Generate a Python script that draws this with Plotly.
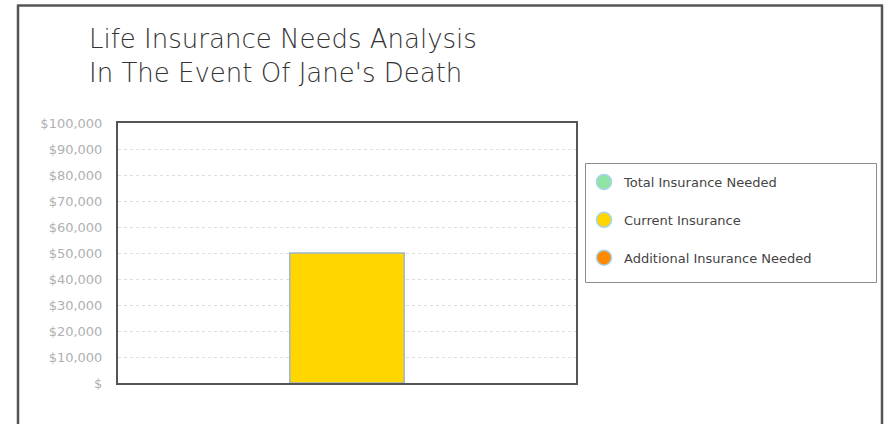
import plotly.graph_objects as go

# ---- data ----
categories = ["Jane"]
series_names = ["Total Insurance Needed", "Current Insurance", "Additional Insurance Needed"]
total_needed = [0]
current_insurance = [50000]
additional_needed = [0]
series_values = [total_needed, current_insurance, additional_needed]
series_colors = ["#90E4A4", "#FFD600", "#FF8A00"]
tick_values = [0, 10000, 20000, 30000, 40000, 50000, 60000, 70000, 80000, 90000, 100000]
tick_labels = ["$", "$10,000", "$20,000", "$30,000", "$40,000", "$50,000",
               "$60,000", "$70,000", "$80,000", "$90,000", "$100,000"]
title_lines = ["Life Insurance Needs Analysis", "In The Event Of Jane's Death"]

W, H = 884, 424
L, R, T, B = 118, 576, 123, 383  # plot area in px


def px_x(px):
    return (px - L) / (R - L)


def px_y(py):
    return (B - py) / (B - T)


FONT = "DejaVu Sans, Verdana, sans-serif"

fig = go.Figure()

for name, vals, col in zip(series_names, series_values, series_colors):
    fig.add_trace(go.Bar(
        x=categories, y=vals, name=name, showlegend=False,
        marker=dict(color=col,
                    line=dict(color="#9DB7CC",
                              width=[1.5 if v > 0 else 0 for v in vals])),
        hoverinfo="y",
    ))

# legend proxies (circle symbols)
for i, (name, col) in enumerate(zip(series_names, series_colors)):
    fig.add_trace(go.Scatter(
        x=[None], y=[None], mode="markers", name=name, legendgroup=f"g{i}",
        marker=dict(symbol="circle", size=15, color=col,
                    line=dict(color="#A8D4EC", width=1.5)),
    ))

shapes = [
    # outer frame (left, top, right)
    dict(type="line", xref="paper", yref="paper", x0=px_x(18), x1=px_x(18),
         y0=px_y(5), y1=px_y(430), line=dict(color="#555555", width=2.5)),
    dict(type="line", xref="paper", yref="paper", x0=px_x(17), x1=px_x(883),
         y0=px_y(5.5), y1=px_y(5.5), line=dict(color="#555555", width=2.5)),
    dict(type="line", xref="paper", yref="paper", x0=px_x(882), x1=px_x(882),
         y0=px_y(5), y1=px_y(430), line=dict(color="#555555", width=2.5)),
    # legend box
    dict(type="rect", xref="paper", yref="paper", x0=px_x(585.5), x1=px_x(876.5),
         y0=px_y(163.5), y1=px_y(282.5), line=dict(color="#8C8C8C", width=1)),
]

fig.update_layout(
    width=W, height=H,
    margin=dict(l=L, r=W - R, t=T, b=H - B, pad=0),
    paper_bgcolor="white", plot_bgcolor="white",
    barmode="group", bargap=0.25, bargroupgap=0,
    font=dict(family=FONT, color="#333333"),
    title=dict(text="<br>".join(title_lines), xref="container", yref="container",
               x=89 / W, xanchor="left", y=1 - 48 / H, yanchor="top",
               font=dict(family=FONT, size=26, color="#333333", weight=300)),
    xaxis=dict(showticklabels=False, showgrid=False, zeroline=False,
               showline=True, mirror=True, linecolor="#555555", linewidth=2,
               range=[-0.5, 0.5], fixedrange=True),
    yaxis=dict(range=[0, 100000], tickvals=tick_values, ticktext=tick_labels,
               showgrid=True, gridcolor="#DDDDDD", griddash="dot", gridwidth=1,
               zeroline=False, showline=True, mirror=True, linecolor="#555555",
               linewidth=2, ticks="", ticklabelstandoff=11,
               tickfont=dict(family=FONT, size=13, color="#B0B0B0")),
    legend=dict(x=px_x(584), y=px_y(167), xanchor="left", yanchor="top",
                bgcolor="rgba(0,0,0,0)", borderwidth=0, tracegroupgap=18,
                font=dict(family=FONT, size=13, color="#444444")),
    shapes=shapes,
    showlegend=True,
)

fig.write_html("out.html")
